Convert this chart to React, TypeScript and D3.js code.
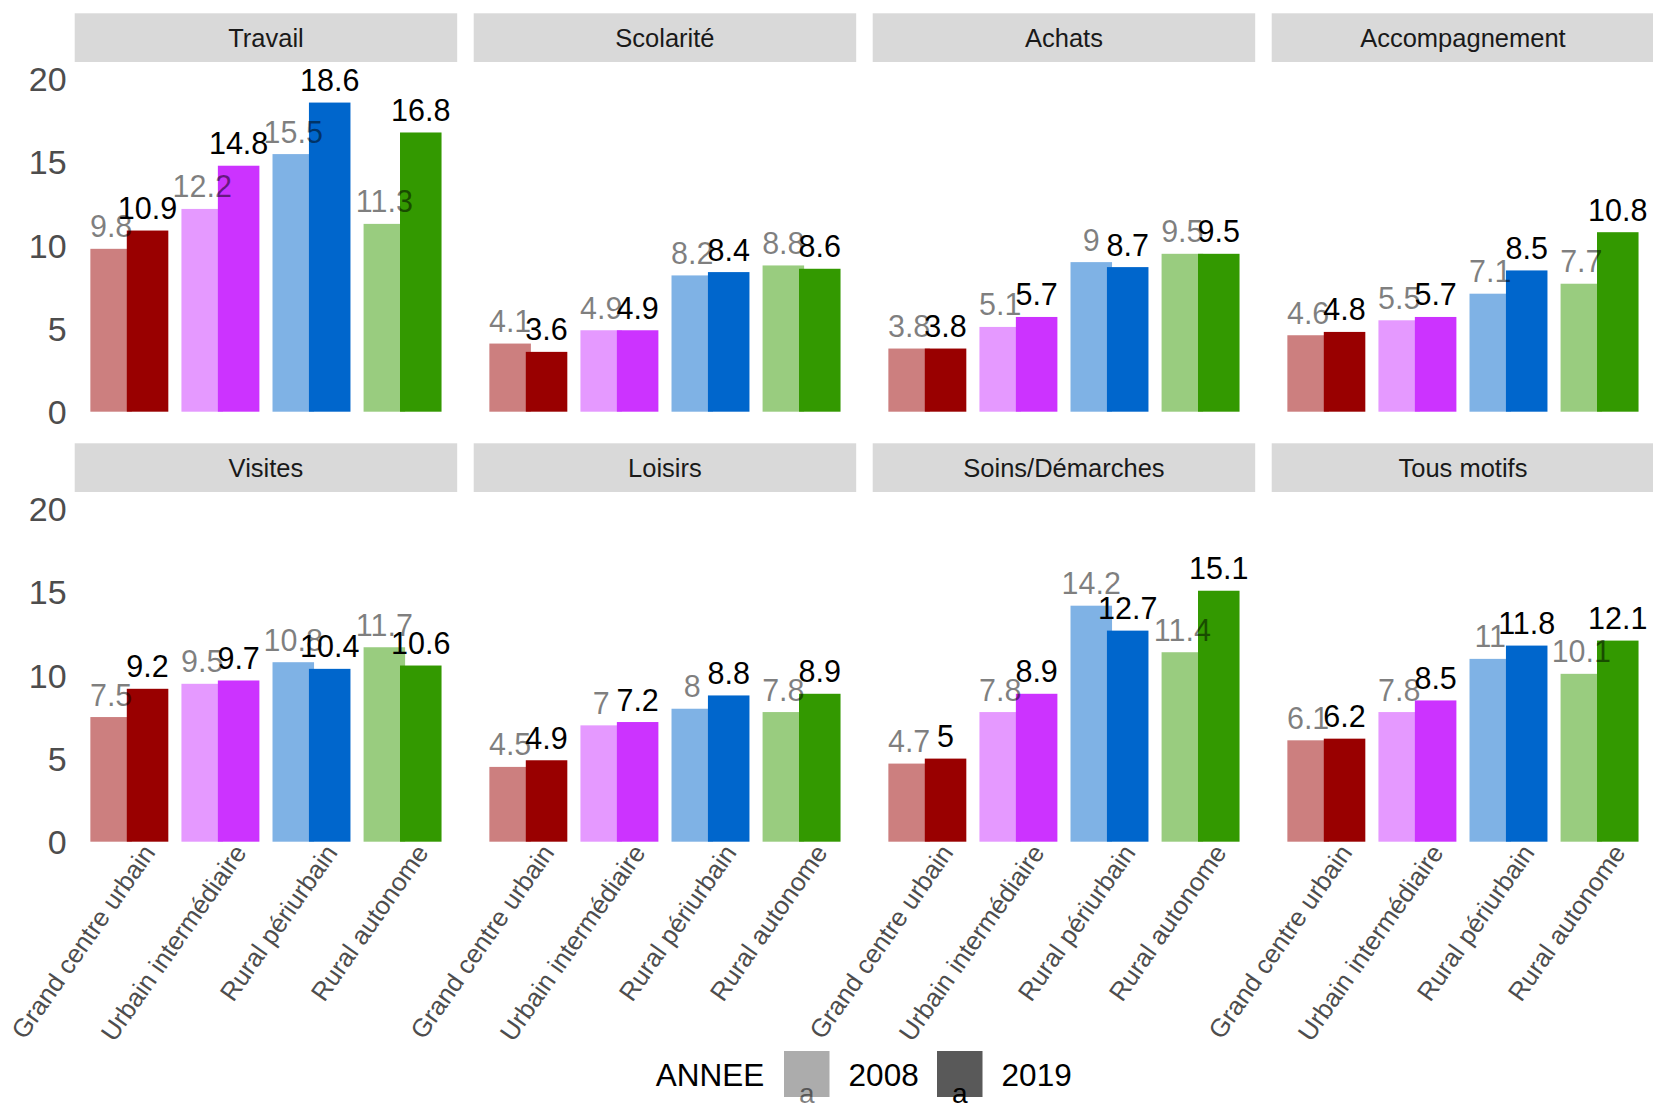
import React from "react";
import * as d3 from "d3";

const motifs = ["Travail", "Scolarité", "Achats", "Accompagnement", "Visites", "Loisirs", "Soins/Démarches", "Tous motifs"];
const categories = ["Grand centre urbain", "Urbain intermédiaire", "Rural périurbain", "Rural autonome"];
const catColors = ["#990000", "#cc33ff", "#0066cc", "#339900"];
const years = ["2008", "2019"];
const values2008 = [
  [9.8, 12.2, 15.5, 11.3],
  [4.1, 4.9, 8.2, 8.8],
  [3.8, 5.1, 9, 9.5],
  [4.6, 5.5, 7.1, 7.7],
  [7.5, 9.5, 10.8, 11.7],
  [4.5, 7, 8, 7.8],
  [4.7, 7.8, 14.2, 11.4],
  [6.1, 7.8, 11, 10.1],
];
const values2019 = [
  [10.9, 14.8, 18.6, 16.8],
  [3.6, 4.9, 8.4, 8.6],
  [3.8, 5.7, 8.7, 9.5],
  [4.8, 5.7, 8.5, 10.8],
  [9.2, 9.7, 10.4, 10.6],
  [4.9, 7.2, 8.8, 8.9],
  [5, 8.9, 12.7, 15.1],
  [6.2, 8.5, 11.8, 12.1],
];
const yTicks = [0, 5, 10, 15, 20];

const FONT = "'Liberation Sans', Arial, Helvetica, sans-serif";
const PANEL_X0 = 74.7;
const PANEL_STEP = 399;
const PANEL_W = 382.5;
const ROW_STEP = 430;
const STRIP_TOP = 13.3;
const STRIP_H = 48.7;
const ZERO_Y = 411.7;
const PX_PER_UNIT = 16.62;
const DODGE = 0.2;
const BAR_W = 0.456;

function Panel({ idx }: { idx: number }) {
  const col = idx % 4;
  const row = Math.floor(idx / 4);
  const px = PANEL_X0 + col * PANEL_STEP;
  const oy = row * ROW_STEP;
  const x = d3.scaleLinear().domain([0.4, 4.6]).range([px, px + PANEL_W]);
  const y = d3.scaleLinear().domain([0, 20]).range([ZERO_Y + oy, ZERO_Y + oy - 20 * PX_PER_UNIT]);
  const unit = x(1) - x(0);
  const bw = BAR_W * unit;
  const series = [values2008[idx], values2019[idx]];
  return (
    <g>
      <rect x={px} y={STRIP_TOP + oy} width={PANEL_W} height={STRIP_H} fill="#d9d9d9" />
      <text x={px + PANEL_W / 2} y={STRIP_TOP + oy + 34} textAnchor="middle" fontSize={25.5} fill="#1a1a1a" fontFamily={FONT}>
        {motifs[idx]}
      </text>
      {series.map((vals, s) =>
        vals.map((v, i) => {
          const cx = x(i + 1) + (s === 0 ? -DODGE : DODGE) * unit;
          return (
            <rect
              key={`b${s}-${i}`}
              x={cx - bw / 2}
              y={y(v)}
              width={bw}
              height={y(0) - y(v)}
              fill={catColors[i]}
              fillOpacity={s === 0 ? 0.5 : 1}
            />
          );
        })
      )}
      {series.map((vals, s) =>
        vals.map((v, i) => {
          const cx = x(i + 1) + (s === 0 ? -DODGE : DODGE) * unit;
          return (
            <text
              key={`t${s}-${i}`}
              x={cx}
              y={y(v) - 11.5}
              textAnchor="middle"
              fontSize={30.5}
              fill="#000"
              fillOpacity={s === 0 ? 0.5 : 1}
              fontFamily={FONT}
            >
              {String(v)}
            </text>
          );
        })
      )}
      {col === 0 &&
        yTicks.map((t) => (
          <text key={`y${t}`} x={66.7} y={y(t) + 12} textAnchor="end" fontSize={34} fill="#4d4d4d" fontFamily={FONT}>
            {t}
          </text>
        ))}
      {row === 1 &&
        categories.map((c, i) => {
          const ax = x(i + 1) + 27;
          const ay = y(0) + 11;
          return (
            <text
              key={`x${i}`}
              transform={`translate(${ax},${ay}) rotate(-55)`}
              textAnchor="end"
              fontSize={25.8}
              fill="#4d4d4d"
              fontFamily={FONT}
            >
              {c}
            </text>
          );
        })}
    </g>
  );
}

export default function App() {
  return (
    <svg
      width={1653}
      height={1104}
      style={{ position: "absolute", left: 0, top: 0, background: "#fff", overflow: "hidden" }}
    >
      <rect x={0} y={0} width={1653} height={1104} fill="#fff" />
      {motifs.map((m, i) => (
        <Panel key={m} idx={i} />
      ))}
      <g fontFamily={FONT}>
        <text x={655.7} y={1086} fontSize={31.5} fill="#000">ANNEE</text>
        {years.map((yr, k) => {
          const kx = k === 0 ? 784 : 937;
          return (
            <g key={yr}>
              <rect x={kx} y={1051} width={45.5} height={46} fill="#595959" fillOpacity={k === 0 ? 0.5 : 1} />
              <text x={kx + 22.75} y={1103} textAnchor="middle" fontSize={28} fill="#000" fillOpacity={k === 0 ? 0.5 : 1}>a</text>
              <text x={kx + 64.6} y={1086} fontSize={31.5} fill="#000">{yr}</text>
            </g>
          );
        })}
      </g>
    </svg>
  );
}
